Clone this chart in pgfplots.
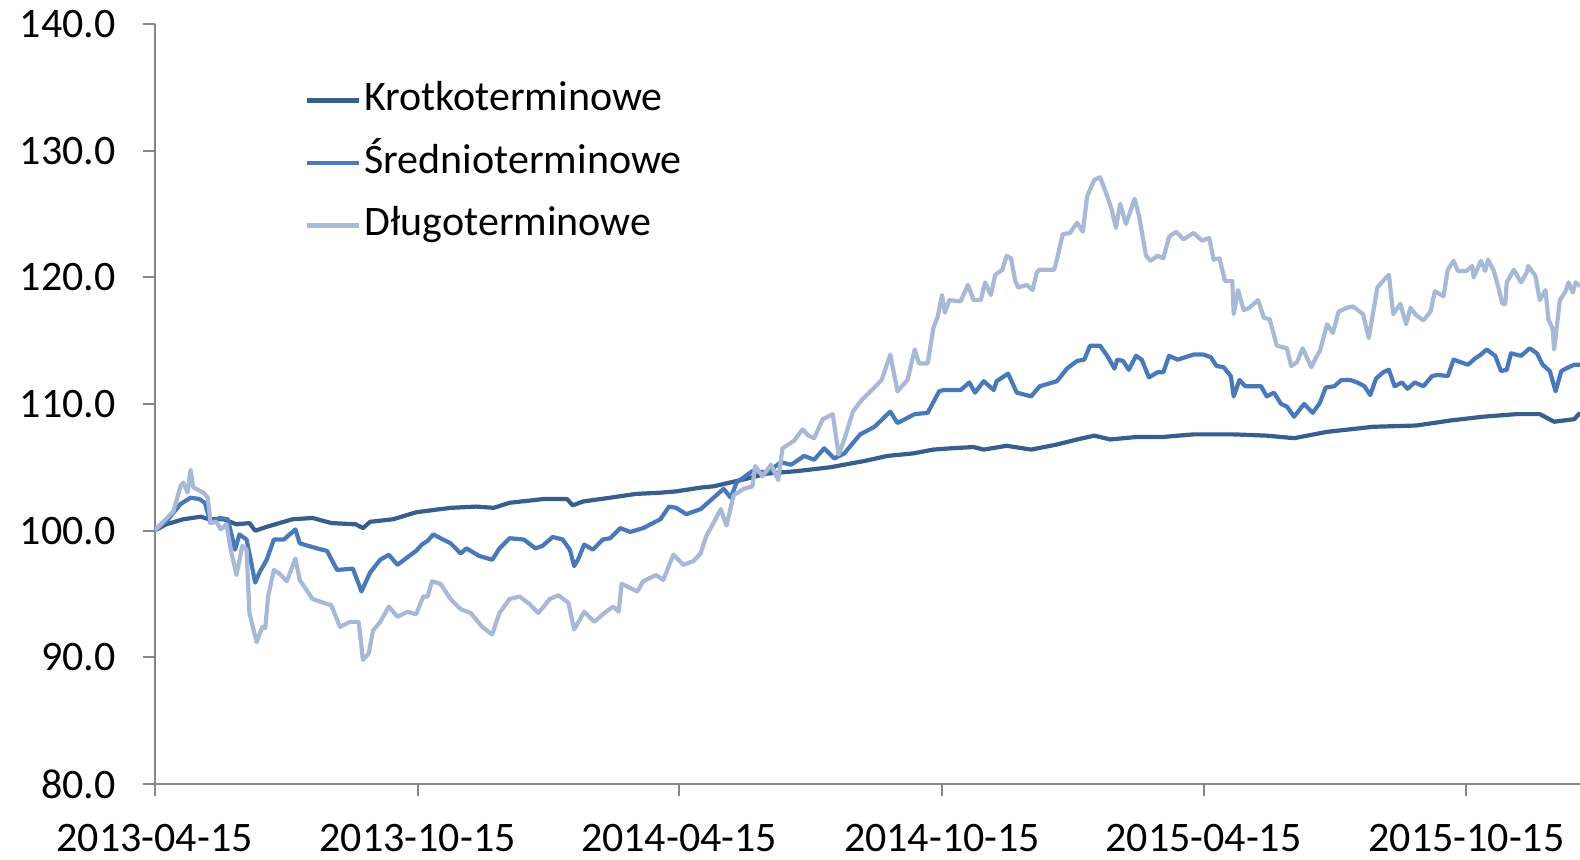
\documentclass[border=0pt]{standalone}
\usepackage{fontspec}
\setmainfont{Carlito}
\usepackage{pgfplots}
\pgfplotsset{compat=1.18}
\definecolor{ck}{RGB}{56,94,142}
\definecolor{cs}{RGB}{72,121,186}
\definecolor{cd}{RGB}{167,185,214}
\definecolor{axg}{RGB}{134,134,134}
\begin{document}
\begin{tikzpicture}
\begin{axis}[
 name=ax,
 width=712.7pt, height=380pt, scale only axis,
 xmin=0, xmax=992, ymin=80, ymax=140,
 axis x line=bottom, axis y line=left,
 axis line style={draw=axg, line width=1pt, -},
 xtick={0,183,365,548,730,913},
 xticklabels={2013-04-15,2013-10-15,2014-04-15,2014-10-15,2015-04-15,2015-10-15},
 ytick={80,90,100,110,120,130,140},
 /pgf/number format/assume math mode=true,
 yticklabel style={/pgf/number format/fixed, /pgf/number format/fixed zerofill, /pgf/number format/precision=1,
   anchor=east, inner sep=0pt, xshift=-13.3pt},
 xticklabel style={anchor=north, inner sep=0pt, text height=13pt, text depth=0pt, yshift=-14.5pt},
 tick align=outside, major tick length=6pt,
 tick style={draw=axg, line width=1pt},
 ticklabel style={font=\fontsize{21}{24}\selectfont},
 legend style={at={(0.1055,0.9235)}, anchor=north west, draw=none, fill=none, inner sep=0pt,
   row sep=13.25pt, font=\fontsize{21}{24}\selectfont,
   nodes={inner sep=0pt, inner xsep=1.5pt, text height=14pt, text depth=4pt}},
 legend cell align=left,
 legend image code/.code={\draw[#1] (0pt,0pt) -- (26pt,0pt);},
 every axis plot/.append style={line width=2.1pt, line join=round},
]
\addplot[ck] coordinates {
(0,100.0)(8,100.5)(20,100.9)(32,101.1)(38,100.9)(48,100.9)(57,100.5)(66,100.6)(70,100.0)(78,100.3)
(96,100.9)(110,101.0)(123,100.6)(140,100.5)(145,100.2)(150,100.7)(166,100.9)(182,101.45)(192,101.6)
(206,101.8)(224,101.9)(236,101.8)(247,102.2)(271,102.5)(287,102.5)(291,102.0)(298,102.3)(317,102.6)
(335,102.9)(352,103.0)(363,103.1)(380,103.4)(389,103.5)(412,104.1)(426,104.5)(447,104.7)(470,105.0)
(494,105.5)(510,105.9)(528,106.1)(542,106.4)(554,106.5)(570,106.6)(577,106.4)(593,106.7)(610,106.4)
(628,106.8)(642,107.2)(654,107.5)(665,107.2)(684,107.4)(702,107.4)(723,107.6)(742,107.6)(751,107.6)
(774,107.5)(793,107.3)(816,107.8)(848,108.2)(878,108.3)(902,108.7)(925,109.0)(948,109.2)(964,109.2)
(974,108.6)(988,108.8)(992,109.3)
};
\addlegendentry{Krotkoterminowe}
\addplot[cs] coordinates {
(0,100.0)(8,100.7)(18,102.1)(25,102.6)(31,102.5)(35,102.2)(39,100.6)(45,101.0)(51,100.9)(56,98.5)
(59,99.7)(64,99.3)(66,98.2)(70,95.9)(73,96.7)(78,97.7)(83,99.3)(90,99.3)(98,100.1)(101,99.0)
(113,98.6)(120,98.4)(127,96.9)(138,97.0)(144,95.2)(150,96.7)(157,97.7)(163,98.1)(169,97.3)(176,97.9)
(182,98.4)(186,98.9)(190,99.2)(194,99.7)(199,99.4)(206,99.0)(213,98.2)(217,98.6)(226,98.0)(235,97.7)
(240,98.6)(247,99.4)(257,99.3)(265,98.6)(270,98.8)(277,99.5)(284,99.3)(289,98.5)(292,97.2)(295,97.8)
(299,98.9)(305,98.5)(312,99.3)(317,99.4)(324,100.2)(331,99.9)(340,100.2)(352,100.9)(358,101.9)(363,101.8)
(370,101.3)(380,101.7)(389,102.6)(396,103.3)(401,102.6)(405,103.8)(416,104.7)(426,104.6)(436,105.4)
(443,105.2)(452,105.9)(459,105.6)(466,106.5)(473,105.7)(480,106.1)(491,107.6)(501,108.2)(512,109.4)
(517,108.5)(529,109.2)(538,109.3)(546,111.0)(549,111.1)(561,111.1)(567,111.7)(571,110.9)(577,111.8)
(584,111.1)(586,111.8)(594,112.4)(600,110.9)(610,110.6)(616,111.4)(628,111.8)(635,112.8)(642,113.4)
(647,113.5)(651,114.6)(658,114.6)(663,113.8)(668,112.8)(670,113.5)(674,113.4)(678,112.7)(683,113.8)
(687,113.5)(692,112.1)(698,112.5)(702,112.5)(706,113.8)(712,113.5)(723,113.9)(730,113.9)(735,113.7)
(739,113.0)(744,112.9)(749,112.2)(751,110.6)(755,111.9)(759,111.4)(770,111.4)(774,110.6)(779,110.9)
(784,110.0)(788,109.8)(793,109.0)(800,110.0)(806,109.3)(811,110.1)(815,111.3)(821,111.4)(826,111.9)
(832,111.9)(837,111.7)(842,111.4)(846,110.7)(850,112.0)(855,112.5)(859,112.7)(863,111.4)(868,111.7)
(872,111.2)(877,111.7)(883,111.4)(889,112.2)(893,112.3)(900,112.2)(904,113.5)(909,113.3)(914,113.1)
(919,113.6)(923,113.9)(927,114.3)(933,113.8)(937,112.6)(941,112.7)(944,114.0)(951,113.8)(957,114.4)
(962,114.0)(966,113.1)(971,112.6)(975,111.0)(979,112.6)(984,112.9)(988,113.1)(992,113.1)
};
\addlegendentry{Średnioterminowe}
\addplot[cd] coordinates {
(0,100.0)(6,100.7)(13,101.5)(18,103.5)(20,103.8)(23,103.0)(25,104.8)(27,103.4)(34,103.0)(37,102.6)
(39,100.6)(43,100.7)(46,100.1)(50,100.5)(53,98.5)(57,96.5)(61,98.8)(64,98.5)(66,93.5)(71,91.2)
(75,92.4)(77,92.3)(79,94.8)(83,96.9)(87,96.6)(92,96.0)(98,97.8)(101,96.1)(110,94.6)(123,94.1)
(129,92.4)(136,92.8)(142,92.8)(145,89.8)(149,90.3)(152,92.1)(157,92.8)(163,94.0)(169,93.2)(176,93.6)
(182,93.4)(187,94.8)(190,94.8)(193,96.0)(199,95.8)(206,94.6)(213,93.8)(220,93.5)(228,92.4)(235,91.8)
(240,93.5)(247,94.6)(254,94.8)(261,94.2)(267,93.5)(275,94.6)(281,94.9)(288,94.3)(292,92.2)(299,93.6)
(306,92.8)(313,93.5)(319,94.0)(323,93.6)(325,95.8)(336,95.2)(340,96.0)(349,96.5)(354,96.1)(361,98.1)
(368,97.3)(375,97.6)(380,98.2)(384,99.6)(388,100.4)(394,101.7)(398,100.4)(403,102.8)(410,103.3)
(416,103.5)(418,105.1)(423,104.3)(429,105.2)(434,104.0)(437,106.5)(445,107.1)(451,108.0)(455,107.5)
(459,107.3)(465,108.8)(472,109.2)(476,106.0)(480,107.2)(486,109.4)(492,110.3)(501,111.3)(506,111.9)
(512,113.9)(517,111.0)(524,111.9)(529,114.3)(532,113.2)(538,113.2)(542,116.0)(545,116.9)(548,118.6)
(550,117.2)(553,118.2)(561,118.1)(566,119.4)(570,118.2)(575,118.2)(578,119.6)(582,118.6)(585,120.2)
(590,120.6)(593,121.7)(596,121.5)(599,119.7)(601,119.2)(607,119.4)(611,119.0)(614,120.4)(616,120.6)
(626,120.6)(628,121.4)(632,123.4)(637,123.5)(642,124.3)(646,123.6)(649,126.4)(654,127.7)(658,127.9)
(662,126.7)(666,125.4)(669,123.9)(672,125.8)(676,124.2)(682,126.2)(685,124.9)(690,121.7)(693,121.3)
(698,121.7)(702,121.5)(706,123.2)(711,123.6)(716,123.0)(723,123.5)(729,122.9)(734,123.1)(737,121.4)
(741,121.5)(745,119.7)(750,119.7)(751,117.1)(754,119.0)(758,117.4)(762,117.6)(768,118.2)(772,116.8)
(776,116.7)(781,114.6)(788,114.4)(791,113.0)(795,113.3)(799,114.4)(805,112.9)(808,113.6)(811,114.2)
(816,116.3)(820,115.6)(824,117.3)(830,117.6)(834,117.7)(841,117.1)(845,115.2)(851,119.2)(854,119.6)
(859,120.2)(862,117.1)(867,117.9)(871,116.3)(874,117.6)(878,117.0)(883,116.6)(888,117.3)(891,118.9)
(897,118.5)(900,120.6)(904,121.3)(907,120.5)(913,120.5)(917,120.9)(918,120.0)(923,121.3)(926,120.5)
(928,121.4)(932,120.5)(935,119.3)(938,117.9)(940,117.9)(941,119.6)(946,120.6)(951,119.6)(955,120.4)
(956,120.9)(961,120.1)(964,118.2)(968,119.0)(970,116.7)(973,115.9)(974,114.3)(978,118.2)(982,118.9)
(984,119.6)(987,118.8)(989,119.6)(992,119.3)
};
\addlegendentry{Długoterminowe}
\coordinate (o) at (rel axis cs:0,0);
\end{axis}
\pgfresetboundingbox
\path[use as bounding box] ([shift={(-77.3pt,-38pt)}]o) rectangle ++(790pt,430pt);
\end{tikzpicture}
\end{document}
